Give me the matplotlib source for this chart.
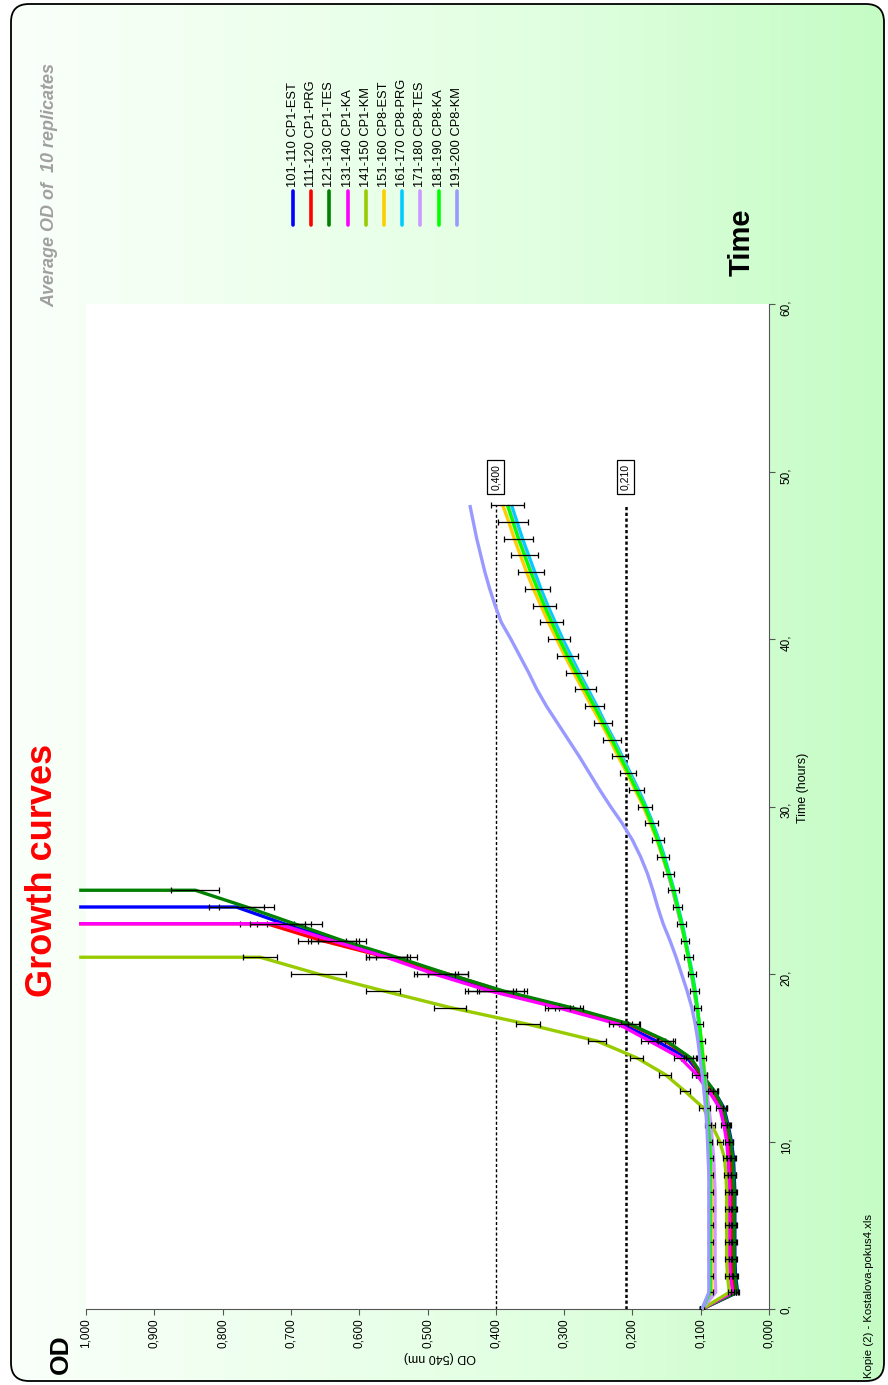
import numpy as np
import matplotlib
matplotlib.use('Agg')
import matplotlib.pyplot as plt
from matplotlib.patches import FancyBboxPatch

plt.rcParams['font.family'] = ['Liberation Sans', 'DejaVu Sans']

W, H = 888, 1385

labels = ['101-110 CP1-EST', '111-120 CP1-PRG', '121-130 CP1-TES', '131-140 CP1-KA',
          '141-150 CP1-KM', '151-160 CP8-EST', '161-170 CP8-PRG', '171-180 CP8-TES',
          '181-190 CP8-KA', '191-200 CP8-KM']
colors = ['#0000FF', '#FF0000', '#008000', '#FF00FF', '#99CC00',
          '#FFCC00', '#00CCFF', '#CC99FF', '#00FF00', '#9999FF']

# average OD per hourly reading (hour 0, 1, 2, ...)
od_101 = [0.098, 0.046, 0.049, 0.050, 0.050, 0.050, 0.050, 0.050, 0.051, 0.052,
          0.055, 0.060, 0.066, 0.080, 0.100, 0.120, 0.165, 0.215, 0.305, 0.405,
          0.485, 0.555, 0.635, 0.710, 0.780]
od_111 = [0.098, 0.050, 0.053, 0.054, 0.054, 0.054, 0.054, 0.054, 0.055, 0.056,
          0.058, 0.062, 0.068, 0.082, 0.100, 0.116, 0.152, 0.205, 0.295, 0.393,
          0.470, 0.560, 0.655, 0.735]
od_121 = [0.098, 0.047, 0.050, 0.051, 0.051, 0.051, 0.051, 0.051, 0.052, 0.053,
          0.056, 0.061, 0.067, 0.080, 0.098, 0.115, 0.150, 0.203, 0.290, 0.390,
          0.470, 0.545, 0.625, 0.695, 0.765, 0.840]
od_131 = [0.098, 0.053, 0.057, 0.058, 0.058, 0.058, 0.058, 0.058, 0.059, 0.060,
          0.062, 0.066, 0.072, 0.088, 0.106, 0.130, 0.175, 0.220, 0.310, 0.410,
          0.490, 0.560, 0.640, 0.720]
od_141 = [0.098, 0.058, 0.061, 0.062, 0.062, 0.062, 0.062, 0.062, 0.063, 0.065,
          0.072, 0.084, 0.096, 0.123, 0.152, 0.194, 0.252, 0.353, 0.467, 0.565,
          0.660, 0.745]
od_151 = [0.098, 0.084, 0.084, 0.084, 0.084, 0.084, 0.084, 0.084, 0.084, 0.085,
          0.086, 0.088, 0.090, 0.092, 0.094, 0.096, 0.099, 0.102, 0.105, 0.109,
          0.113, 0.118, 0.123, 0.129, 0.135, 0.141, 0.148, 0.156, 0.164, 0.174,
          0.184, 0.196, 0.208, 0.221, 0.233, 0.246, 0.260, 0.273, 0.286, 0.299,
          0.311, 0.323, 0.334, 0.345, 0.355, 0.364, 0.373, 0.381, 0.390]
od_161 = [0.098, 0.087, 0.087, 0.087, 0.087, 0.087, 0.087, 0.087, 0.087, 0.088,
          0.089, 0.090, 0.092, 0.094, 0.096, 0.098, 0.100, 0.102, 0.105, 0.108,
          0.112, 0.117, 0.122, 0.127, 0.133, 0.139, 0.146, 0.153, 0.161, 0.170,
          0.180, 0.191, 0.203, 0.215, 0.227, 0.240, 0.252, 0.265, 0.278, 0.290,
          0.302, 0.313, 0.324, 0.334, 0.343, 0.352, 0.361, 0.369, 0.377]
od_171 = [0.098, 0.078, 0.079, 0.079, 0.079, 0.079, 0.079, 0.079, 0.080, 0.081,
          0.083, 0.085, 0.088, 0.091, 0.094, 0.097, 0.100, 0.103, 0.106, 0.110,
          0.114, 0.118, 0.123, 0.129, 0.135, 0.141, 0.148, 0.155, 0.163, 0.172,
          0.182, 0.193, 0.205, 0.217, 0.229, 0.242, 0.255, 0.268, 0.281, 0.294,
          0.306, 0.317, 0.328, 0.338, 0.348, 0.357, 0.366, 0.374, 0.382]
od_181 = [0.098, 0.086, 0.086, 0.086, 0.086, 0.086, 0.086, 0.086, 0.086, 0.086,
          0.087, 0.089, 0.091, 0.093, 0.095, 0.097, 0.099, 0.102, 0.105, 0.109,
          0.113, 0.118, 0.123, 0.128, 0.134, 0.140, 0.147, 0.155, 0.163, 0.172,
          0.182, 0.194, 0.206, 0.218, 0.230, 0.243, 0.256, 0.269, 0.282, 0.295,
          0.307, 0.318, 0.329, 0.339, 0.349, 0.358, 0.367, 0.375, 0.383]
od_191 = [0.098, 0.088, 0.088, 0.088, 0.088, 0.088, 0.088, 0.088, 0.088, 0.089,
          0.090, 0.091, 0.093, 0.095, 0.098, 0.101, 0.104, 0.108, 0.113, 0.120,
          0.128, 0.136, 0.145, 0.155, 0.163, 0.170, 0.178, 0.188, 0.200, 0.215,
          0.232, 0.248, 0.263, 0.278, 0.294, 0.310, 0.326, 0.340, 0.352, 0.365,
          0.378, 0.392, 0.401, 0.409, 0.416, 0.422, 0.428, 0.433, 0.438]

# standard deviations of the replicates
err_cp1 = [0.003, 0.002, 0.003, 0.003, 0.003, 0.003, 0.003, 0.003, 0.003, 0.003,
           0.003, 0.004, 0.005, 0.006, 0.007, 0.009, 0.012, 0.014, 0.018, 0.035,
           0.030, 0.030, 0.035, 0.040, 0.040, 0.035]
err_141 = [0.003, 0.002, 0.003, 0.003, 0.003, 0.003, 0.003, 0.003, 0.003, 0.003,
           0.004, 0.005, 0.006, 0.008, 0.009, 0.010, 0.013, 0.018, 0.024, 0.025,
           0.040, 0.025]
err_181 = [0.003, 0.004, 0.004, 0.004, 0.004, 0.004, 0.004, 0.004, 0.004, 0.004,
           0.004, 0.004, 0.004, 0.004, 0.004, 0.005, 0.005, 0.005, 0.005, 0.006,
           0.006, 0.006, 0.006, 0.007, 0.007, 0.008, 0.008, 0.009, 0.009, 0.010,
           0.010, 0.011, 0.012, 0.012, 0.013, 0.013, 0.014, 0.015, 0.015, 0.016,
           0.016, 0.017, 0.017, 0.018, 0.019, 0.020, 0.021, 0.022, 0.024]

# reading after the last hour went over range
od_overflow = 1.01
overflow = [True, True, True, True, True, False, False, False, False, False]

thresholds = [0.400, 0.210]
od_ticks = [0.0, 0.1, 0.2, 0.3, 0.4, 0.5, 0.6, 0.7, 0.8, 0.9, 1.0]
time_ticks = [0, 10, 20, 30, 40, 50, 60]

series = [od_101, od_111, od_121, od_131, od_141, od_151, od_161, od_171, od_181, od_191]
errors = [err_cp1, err_cp1, err_cp1, err_cp1, err_141, None, None, None, err_181, None]


def comma(v, nd):
    return f"{v:.{nd}f}".replace('.', ',')


fig = plt.figure(figsize=(W / 100, H / 100), dpi=100)

# page background: rounded frame with a white-to-green gradient
bg = fig.add_axes([0, 0, 1, 1], zorder=-10)
bg.set_axis_off()
bg.set_xlim(0, W)
bg.set_ylim(H, 0)
xs = np.arange(W)
grad = np.stack([np.interp(xs, [15, 560, 885], [250, 224, 196]),
                 np.interp(xs, [15, 560, 885], [255, 255, 252]),
                 np.interp(xs, [15, 560, 885], [250, 224, 196])], axis=-1)[None] / 255
frame = FancyBboxPatch((11, 4), 873, 1377, boxstyle='round,pad=0,rounding_size=18',
                       fc='none', ec='black', lw=1.3, transform=bg.transData)
im = bg.imshow(grad, extent=(0, W, H, 0), aspect='auto')
im.set_clip_path(frame)
bg.add_patch(frame)

# main plot: OD runs right-to-left, time runs bottom-to-top
ax = fig.add_axes([86 / W, (H - 1309) / H, (769 - 86) / W, (1309 - 304) / H], zorder=1)
ax.set_facecolor('white')
ax.set_xlim(1.0, 0.0)
ax.set_ylim(0, 60)
for s in ['left', 'top']:
    ax.spines[s].set_visible(False)
for s in ['bottom', 'right']:
    ax.spines[s].set_color('#555555')
ax.yaxis.tick_right()
ax.set_xticks(od_ticks)
ax.set_xticklabels([comma(v, 3) for v in od_ticks])
ax.set_yticks(time_ticks)
ax.set_yticklabels([f"{v}," for v in time_ticks])
ax.tick_params(axis='x', direction='out', length=4, color='#555555', labelsize=8.5,
               labelrotation=90, pad=3)
ax.tick_params(axis='y', direction='out', length=4, color='#555555', labelsize=8.5,
               labelrotation=90, pad=4)

t_end = len(od_181) - 1
for k, thr in enumerate(thresholds):
    style = (0, (2.2, 1.6)) if k == 0 else (0, (1.3, 1.0))
    ax.vlines(thr, 0, t_end, colors='black', linestyles=[style], lw=1.0 if k == 0 else 1.8,
              zorder=1.5)
    ax.text(thr, t_end + 0.9, comma(thr, 3), rotation=90, ha='center', va='bottom',
            fontsize=7.5, zorder=20,
            bbox=dict(boxstyle='square,pad=0.35', fc='white', ec='black', lw=0.9))

for i, (od, err, col) in enumerate(zip(series, errors, colors)):
    hours = list(range(len(od)))
    xs_line = list(od)
    ts_line = list(hours)
    if overflow[i]:
        xs_line.append(od_overflow)
        ts_line.append(hours[-1])
    ax.plot(xs_line, ts_line, color=col, lw=2.4, zorder=2 + i, clip_on=False,
            solid_joinstyle='round', solid_capstyle='butt')
    if err is not None:
        ax.errorbar(od, hours, xerr=err[:len(od)], fmt='none', ecolor='black',
                    elinewidth=0.9, capsize=2.5, capthick=0.9, zorder=2.5 + i)

# titles and labels around the plot
bg.text(43, 870, 'Growth curves', rotation=90, ha='center', va='center',
        color='#FF0000', fontsize=26, fontweight='bold')
bg.text(50, 185, 'Average OD of  10 replicates', rotation=90, ha='center', va='center',
        color='#A0A0A0', fontsize=13, fontweight='bold', fontstyle='italic')
bg.text(742, 242, 'Time', rotation=90, ha='center', va='center',
        fontsize=21, fontweight='bold')
bg.text(61, 1354, 'OD', rotation=90, ha='center', va='center',
        fontsize=19, fontweight='bold')
bg.text(803, 788, 'Time (hours)', rotation=90, ha='center', va='center', fontsize=9)
bg.text(440, 1357, 'OD (540 nm)', rotation=180, ha='center', va='center', fontsize=9)
bg.text(869, 1378, 'Kopie (2) - Kostalova-pokus4.xls', rotation=90, ha='center',
        va='bottom', fontsize=8.2)

# legend: short vertical strokes with rotated names
for j, (lab, col) in enumerate(zip(labels, colors)):
    lx = 293 + j * 18.2
    bg.plot([lx, lx], [191, 225], color=col, lw=2.6, solid_capstyle='round')
    bg.text(lx, 187, lab, rotation=90, ha='center', va='bottom', fontsize=9.3)

fig.savefig('out.png', dpi=100)
